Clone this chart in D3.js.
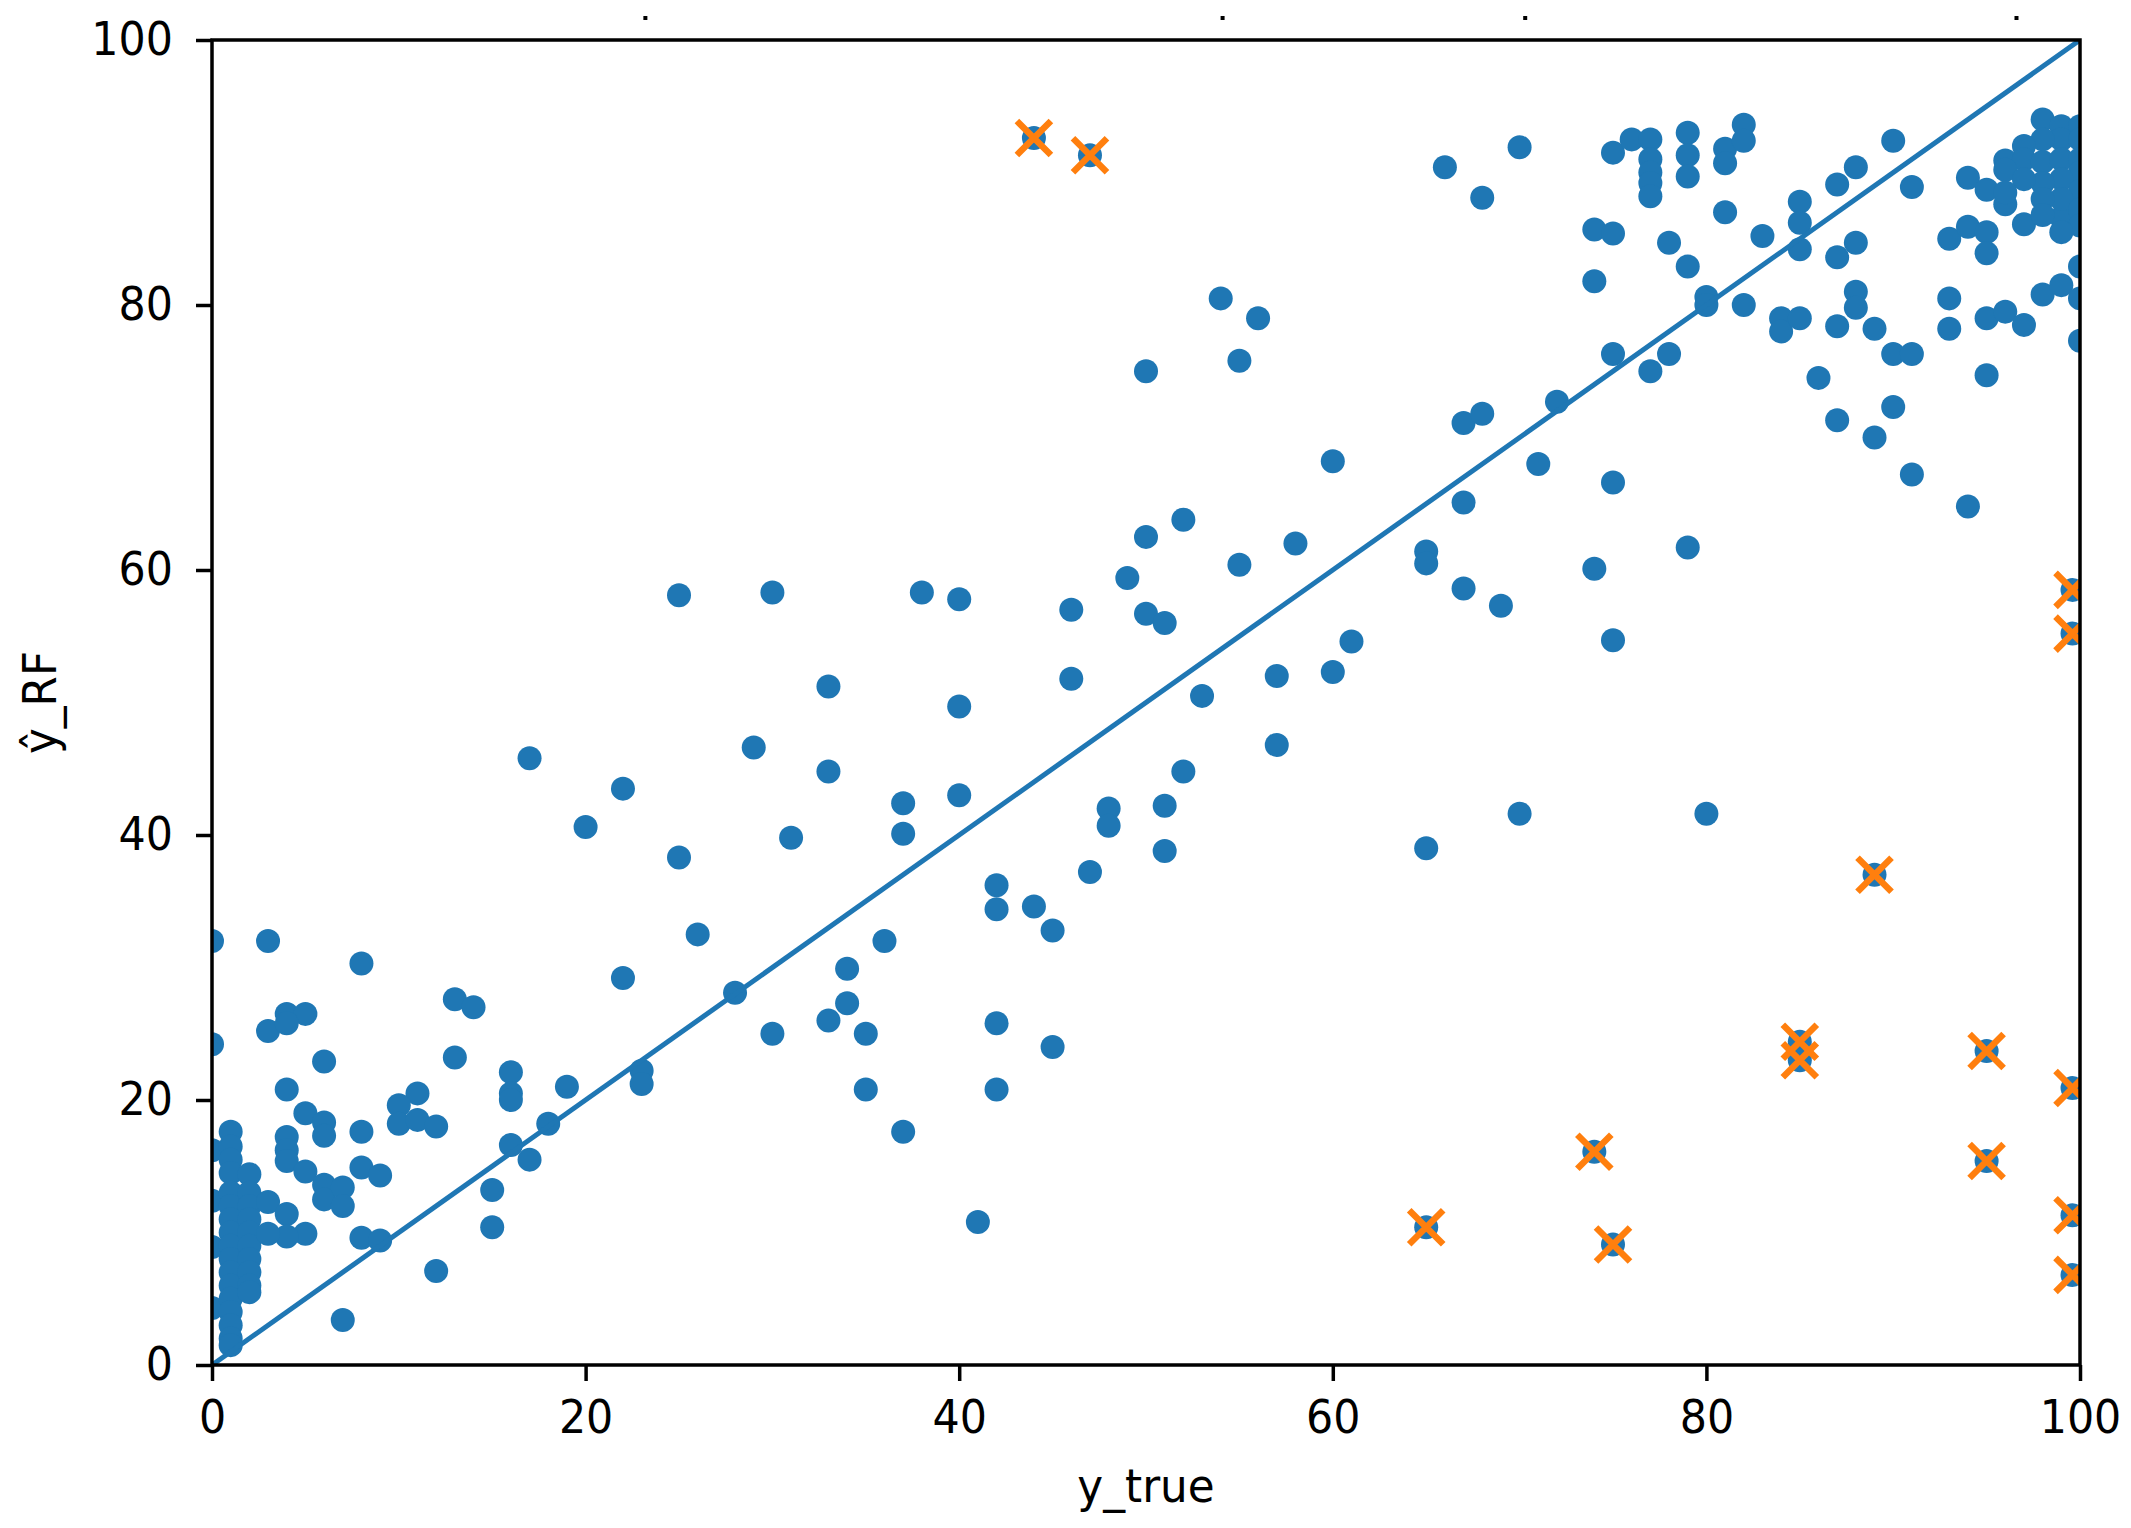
<!DOCTYPE html>
<html>
<head>
<meta charset="utf-8">
<script src="https://cdn.jsdelivr.net/npm/d3@7"></script>
<style>
  body { margin: 0; background: #fff; }
  text { font-family: 'DejaVu Sans', sans-serif; fill: #000; }
</style>
</head>
<body>
<svg id="chart"></svg>
<script>
// y_true vs RF prediction, all points (blue)
const ptsTrue = [
  0, 0, 0, 0, 0, 0,
  1, 1, 1, 1, 1, 1, 1, 1, 1, 1, 1, 1, 1, 1, 1, 1, 1,
  2, 2, 2, 2, 2, 2, 2, 2, 2, 2,
  3, 8, 13, 14, 4, 5, 3, 4, 6, 13, 16, 16, 16, 4, 5, 6, 6, 11, 10, 10, 11, 12, 8, 4, 4, 4,
  5, 6, 6, 7, 7, 8, 9, 15, 15, 12, 7, 8, 9, 3, 4, 5, 4, 3,
  16, 17, 18, 19, 23, 23, 22, 26, 28, 17, 20, 22,
  25, 30, 38, 40, 46, 49, 50, 52, 50, 51, 55, 58, 60, 54, 56, 55, 50, 33, 40, 46, 53, 57, 57, 60, 61,
  29, 33, 31, 25, 37, 37, 40, 52, 48, 48, 51, 51, 47, 42, 42, 44, 45, 36, 34, 34, 33, 30, 35, 42, 45,
  35, 42, 37, 41,
  65, 65, 65, 67, 68, 67, 67, 69, 71, 72, 66, 68, 70, 70, 74, 75, 75, 79, 80,
  75, 76, 77, 77, 77, 77, 77, 79, 79, 79, 81, 81, 82, 82, 74, 75, 81, 78, 79, 74, 83, 85, 85, 85,
  87, 88, 90, 91, 88, 87, 80, 80, 82, 84, 84, 85, 87, 88, 88, 89, 90, 91, 93, 93, 93, 94, 95, 95,
  94, 95, 96, 96, 97, 99, 95, 96, 97, 98, 99, 100, 100, 100, 75, 77, 78, 86, 87, 89, 90, 91, 95, 94,
  98, 99, 100, 99, 100, 98, 97, 97, 98, 99, 100, 100, 99, 98, 96, 97, 100, 99, 98, 96, 100, 98, 100, 99,
  44, 47, 99.6, 99.6, 89, 85, 85, 95, 95, 99.6, 99.6, 99.6, 74, 75, 65
]
const ptsPred = [
  32, 24.2, 16.2, 12.4, 8.9, 4.3,
  17.6, 16.5, 15.5, 14.5, 13, 12, 11, 10, 9, 8, 7, 6, 5, 4, 3, 2, 1.5,
  14.4, 13, 12, 11, 10, 9, 8, 7, 6, 5.5,
  32, 30.3, 27.6, 27, 26.5, 26.5, 25.2, 25.8, 22.9, 23.2, 22.1, 20.5, 20, 20.8, 19, 18.3, 17.3, 20.5, 19.6, 18.2, 18.5, 18, 17.6, 17.2, 16.2, 15.4,
  14.6, 13.6, 12.5, 13.4, 12, 14.9, 14.3, 13.2, 10.4, 7.1, 3.4, 9.6, 9.4, 12.3, 11.4, 9.9, 9.7, 9.9,
  16.6, 15.5, 18.2, 21, 22.2, 21.2, 29.2, 32.5, 28.1, 45.8, 40.6, 43.5,
  58.1, 58.3, 58.3, 57.8, 57, 59.4, 62.5, 63.8, 56.7, 56, 60.4, 62, 68.2, 80.5, 79, 75.8, 75, 51.2, 49.7, 51.8, 50.5, 52, 46.8, 52.3, 54.6,
  46.6, 44.8, 39.8, 38.3, 42.4, 40.1, 43, 44.8, 42, 40.7, 42.2, 38.8, 37.2, 36.2, 34.4, 34.6, 32.8, 32, 29.9, 27.3, 26, 25, 25, 25.8, 24,
  20.8, 20.8, 17.6, 10.8,
  61.4, 60.5, 39, 71.1, 71.8, 65.1, 58.6, 57.3, 68, 72.7, 90.4, 88.1, 91.9, 41.6, 60.1, 66.6, 54.7, 61.7, 41.6,
  91.5, 92.5, 92.5, 91, 90, 89.2, 88.2, 93, 91.3, 89.7, 91.8, 90.7, 93.6, 92.4, 85.7, 85.4, 87, 84.7, 82.9, 81.8, 85.2, 87.8, 86.2, 84.2,
  89.1, 90.4, 92.4, 88.9, 84.7, 83.6, 80.6, 80, 80, 79, 78, 79, 78.4, 81, 79.8, 78.2, 76.3, 76.3, 80.5, 78.2, 85, 85.9, 85.5, 83.9,
  89.6, 88.7, 90.9, 87.6, 86.1, 86.6, 79, 79.5, 78.5, 80.8, 81.5, 82.9, 80.5, 77.3, 76.3, 75, 76.3, 74.5, 71.3, 70, 72.3, 67.2, 74.7, 64.8,
  94, 93.5, 93.5, 92.5, 92.5, 92.5, 92, 91, 90.8, 91, 91, 90, 89.5, 89.2, 90.2, 89.5, 88.6, 88, 88, 88.5, 87.2, 86.8, 86, 85.5,
  92.6, 91.3, 58.5, 55.2, 37, 24.4, 23.0, 23.7, 15.4, 20.9, 11.3, 6.8, 16.1, 9.1, 10.4
]

// flagged points (orange x)
const outTrue = [44, 47, 99.6, 99.6, 89, 85, 85, 95, 95, 99.6, 99.6, 99.6, 74, 75, 65]
const outPred = [92.6, 91.3, 58.5, 55.2, 37, 24.4, 23.0, 23.7, 15.4, 20.9, 11.3, 6.8, 16.1, 9.1, 10.4]

const tickVals = [0, 20, 40, 60, 80, 100]
// stray marks left at the top edge (x in data units)
const topMarks = [23.2, 54.1, 70.3, 96.6]

const w = 2131
const h = 1528
const plotLeft = 212
const plotRight = 2080
const plotTop = 40
const plotBottom = 1365
const blue = '#1f77b4'
const orange = '#ff7f0e'

const svg = d3.select('#chart')
  .attr('width', w)
  .attr('height', h)

const xScale = d3.scaleLinear().domain([0, 100]).range([plotLeft, plotRight])
const yScale = d3.scaleLinear().domain([0, 100]).range([plotBottom, plotTop])

svg.append('defs').append('clipPath')
  .attr('id', 'plot-clip')
  .append('rect')
  .attr('x', plotLeft)
  .attr('y', plotTop)
  .attr('width', plotRight - plotLeft)
  .attr('height', plotBottom - plotTop)

const plot = svg.append('g').attr('clip-path', 'url(#plot-clip)')

// blue dots
plot.selectAll('circle')
  .data(ptsTrue.map((d, i) => [d, ptsPred[i]]))
  .enter()
  .append('circle')
  .attr('cx', d => xScale(d[0]))
  .attr('cy', d => yScale(d[1]))
  .attr('r', 12)
  .attr('fill', blue)

// identity line
plot.append('line')
  .attr('x1', xScale(0))
  .attr('y1', yScale(0))
  .attr('x2', xScale(100))
  .attr('y2', yScale(100))
  .attr('stroke', blue)
  .attr('stroke-width', 5)

// orange crosses
const xs = 17
plot.selectAll('.cross')
  .data(outTrue.map((d, i) => [d, outPred[i]]))
  .enter()
  .append('path')
  .attr('class', 'cross')
  .attr('transform', d => `translate(${xScale(d[0])},${yScale(d[1])})`)
  .attr('d', `M${-xs},${-xs}L${xs},${xs}M${-xs},${xs}L${xs},${-xs}`)
  .attr('stroke', orange)
  .attr('stroke-width', 6.5)
  .attr('fill', 'none')

// axes
const xAxis = svg.append('g')
  .attr('transform', `translate(0,${plotBottom})`)
  .call(d3.axisBottom(xScale).tickValues(tickVals).tickSize(16).tickPadding(19).tickSizeOuter(0))
const yAxis = svg.append('g')
  .attr('transform', `translate(${plotLeft},0)`)
  .call(d3.axisLeft(yScale).tickValues(tickVals).tickSize(16).tickPadding(23).tickSizeOuter(0))

;[xAxis, yAxis].forEach(ax => {
  ax.select('.domain').remove()
  ax.selectAll('line').attr('stroke', '#000').attr('stroke-width', 3.5)
  ax.selectAll('text')
    .style('font-size', '46px')
    .style('font-family', "'DejaVu Sans', sans-serif")
})
xAxis.selectAll('text').attr('transform', 'scale(0.93,1)')
yAxis.selectAll('text').attr('x', -39 / 0.93).attr('transform', 'scale(0.93,1)')

// frame
svg.append('rect')
  .attr('x', plotLeft)
  .attr('y', plotTop)
  .attr('width', plotRight - plotLeft)
  .attr('height', plotBottom - plotTop)
  .attr('fill', 'none')
  .attr('stroke', '#000')
  .attr('stroke-width', 3.5)

// axis labels
svg.append('text')
  .attr('text-anchor', 'middle')
  .attr('transform', `translate(${(plotLeft + plotRight) / 2},1502) scale(0.93,1)`)
  .style('font-size', '47px')
  .text('y_true')

svg.append('text')
  .attr('text-anchor', 'middle')
  .attr('transform', `translate(56,${(plotTop + plotBottom) / 2}) rotate(-90) scale(0.93,1)`)
  .style('font-size', '47px')
  .text('ŷ_RF')

// top edge marks
svg.selectAll('.top-mark')
  .data(topMarks)
  .enter()
  .append('rect')
  .attr('class', 'top-mark')
  .attr('x', d => xScale(d) - 2)
  .attr('y', 16)
  .attr('width', 4)
  .attr('height', 4)
  .attr('fill', '#000')
</script>
</body>
</html>
